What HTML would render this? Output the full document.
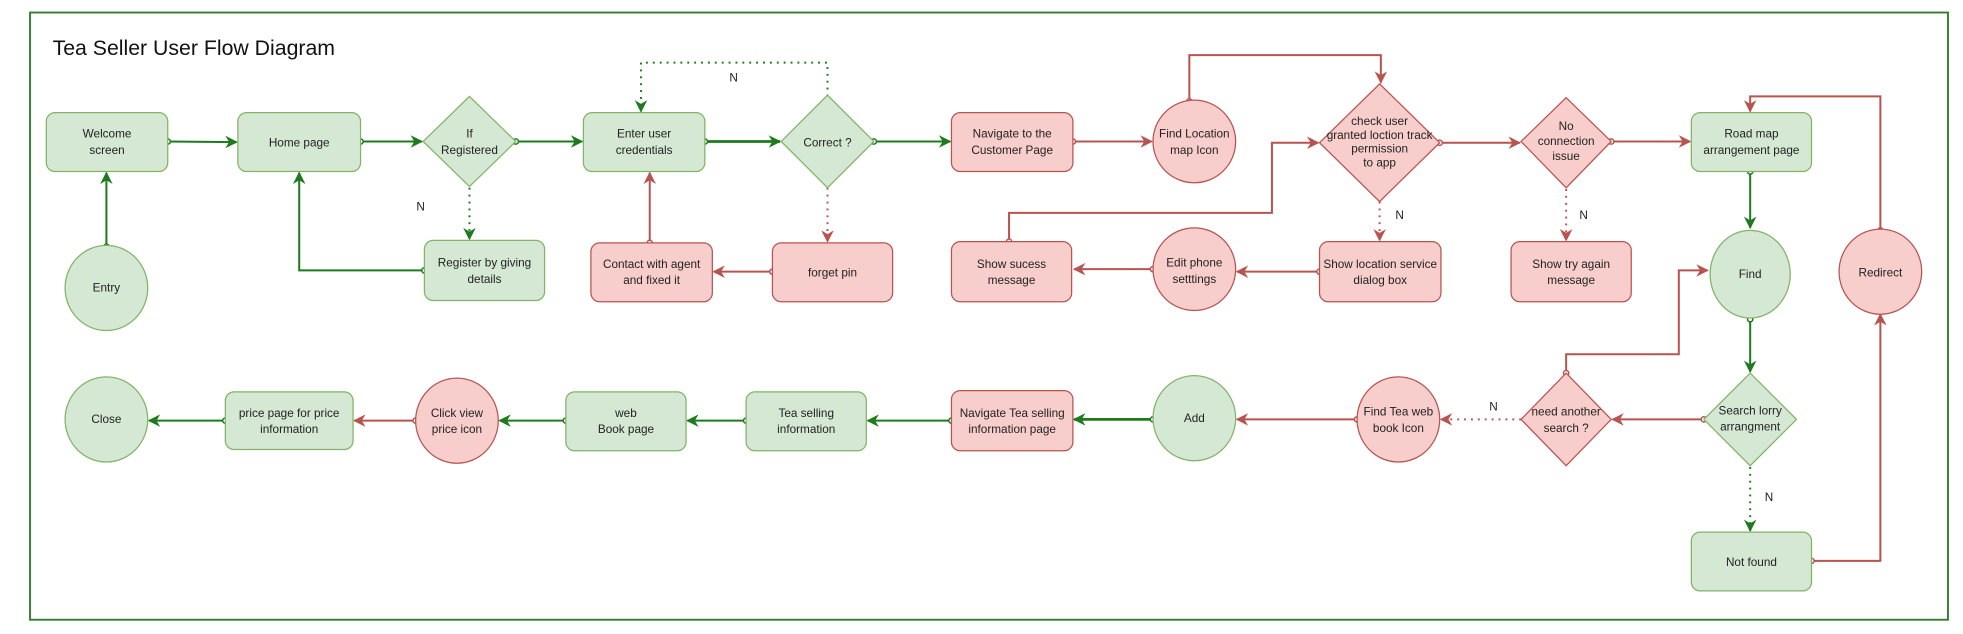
<!DOCTYPE html>
<html><head><meta charset="utf-8"><style>
html,body{margin:0;padding:0;background:#fff;}
svg{display:block;}
text{font-family:"Liberation Sans",sans-serif;font-size:9.4px;fill:#222;text-anchor:middle;}
.g{fill:#d5e8d4;stroke:#82b366;stroke-width:1;}
.r{fill:#f8cecc;stroke:#b85450;stroke-width:1;}
.lg{fill:none;stroke:#1d7a1d;stroke-width:1.6;}
.lr{fill:none;stroke:#b85450;stroke-width:1.6;}
.dg{fill:none;stroke:#1d7a1d;stroke-width:1.6;stroke-dasharray:1.5 4;}
.dr{fill:none;stroke:#b85450;stroke-width:1.6;stroke-dasharray:1.5 4;}
</style></head><body>
<svg width="1963" height="634" viewBox="0 0 1568 506.4" preserveAspectRatio="none" xmlns="http://www.w3.org/2000/svg">
<defs>
<marker id="ag" viewBox="0 0 10 10" refX="9" refY="5" markerWidth="10" markerHeight="10" orient="auto" markerUnits="userSpaceOnUse"><path d="M0,0 L10,5 L0,10 L3,5 z" fill="#1d7a1d"/></marker>
<marker id="ar" viewBox="0 0 10 10" refX="9" refY="5" markerWidth="10" markerHeight="10" orient="auto" markerUnits="userSpaceOnUse"><path d="M0,0 L10,5 L0,10 L3,5 z" fill="#b85450"/></marker>
<marker id="cg" viewBox="0 0 10 10" refX="5" refY="5" markerWidth="6" markerHeight="6" markerUnits="userSpaceOnUse"><circle cx="5" cy="5" r="3.5" fill="#fff" stroke="#1d7a1d" stroke-width="2"/></marker>
<marker id="cr" viewBox="0 0 10 10" refX="5" refY="5" markerWidth="6" markerHeight="6" markerUnits="userSpaceOnUse"><circle cx="5" cy="5" r="3.5" fill="#fff" stroke="#b85450" stroke-width="2"/></marker>
</defs>
<rect x="24" y="10" width="1532" height="485" fill="none" stroke="#2d7d2d" stroke-width="1.5"/>
<text x="42" y="44" style="font-size:17px;text-anchor:start;fill:#111">Tea Seller User Flow Diagram</text>

<g>
<path class="lg" d="M134,113 L189,113.5" marker-start="url(#cg)" marker-end="url(#ag)"/>
<path class="lg" d="M85,197 L85,138" marker-start="url(#cg)" marker-end="url(#ag)"/>
<path class="lg" d="M288,113 L337,113" marker-start="url(#cg)" marker-end="url(#ag)"/>
<path class="lg" d="M339,216 L239,216 L239,138" marker-start="url(#cg)" marker-end="url(#ag)"/>
<path class="dg" d="M375,150 L375,191" marker-end="url(#ag)"/>
<path class="lg" d="M412,113 L465,113" marker-start="url(#cg)" marker-end="url(#ag)"/>
<path class="lg" d="M563,113 L623,113" style="stroke-width:2.2" marker-start="url(#cg)" marker-end="url(#ag)"/>
<path class="dg" d="M661,77 L661,50 L512,50 L512,89" marker-end="url(#ag)"/>
<path class="lg" d="M698,113 L759,113" marker-start="url(#cg)" marker-end="url(#ag)"/>
<path class="dr" d="M661,150 L661,193" marker-end="url(#ar)"/>
<path class="lr" d="M617,217 L570,217" marker-start="url(#cr)" marker-end="url(#ar)"/>
<path class="lr" d="M519,194 L519,138" marker-start="url(#cr)" marker-end="url(#ar)"/>
<path class="lr" d="M857,113 L920,113" marker-start="url(#cr)" marker-end="url(#ar)"/>
<path class="lr" d="M950,81 L950,44 L1103,44 L1103,66" marker-start="url(#cr)" marker-end="url(#ar)"/>
<path class="lr" d="M1150,114 L1214,114" marker-start="url(#cr)" marker-end="url(#ar)"/>
<path class="dr" d="M1102,161 L1102,192" marker-end="url(#ar)"/>
<path class="lr" d="M1287,113 L1350,113" marker-start="url(#cr)" marker-end="url(#ar)"/>
<path class="dr" d="M1251,151 L1251,192" marker-end="url(#ar)"/>
<path class="lr" d="M1054,217 L988,217" marker-start="url(#cr)" marker-end="url(#ar)"/>
<path class="lr" d="M921,215 L858,215" marker-start="url(#cr)" marker-end="url(#ar)"/>
<path class="lr" d="M806,193 L806,170 L1016,170 L1016,114 L1053,114" marker-start="url(#cr)" marker-end="url(#ar)"/>
<path class="lg" d="M1398,137 L1398,182" marker-start="url(#cg)" marker-end="url(#ag)"/>
<path class="lg" d="M1398,255 L1398,297" marker-start="url(#cg)" marker-end="url(#ag)"/>
<path class="dg" d="M1398,373 L1398,424" marker-end="url(#ag)"/>
<path class="lr" d="M1447,448 L1502,448 L1502,251" marker-start="url(#cr)" marker-end="url(#ar)"/>
<path class="lr" d="M1502,184 L1502,77 L1398,77 L1398,89" marker-start="url(#cr)" marker-end="url(#ar)"/>
<path class="lr" d="M1361,335 L1288,335" marker-start="url(#cr)" marker-end="url(#ar)"/>
<path class="lr" d="M1251,298 L1251,283 L1341,283 L1341,216 L1364,216" marker-start="url(#cr)" marker-end="url(#ar)"/>
<path class="dr" d="M1215,335 L1151,335" marker-end="url(#ar)"/>
<path class="lr" d="M1084,335 L988,335" marker-start="url(#cr)" marker-end="url(#ar)"/>
<path class="lg" d="M921,335 L858,335" style="stroke-width:2.2" marker-start="url(#cg)" marker-end="url(#ag)"/>
<path class="lg" d="M760,336 L693,336" marker-start="url(#cg)" marker-end="url(#ag)"/>
<path class="lg" d="M596,336 L549,336" marker-start="url(#cg)" marker-end="url(#ag)"/>
<path class="lg" d="M452,336 L399,336" marker-start="url(#cg)" marker-end="url(#ag)"/>
<path class="lr" d="M332,336 L283,336" marker-start="url(#cr)" marker-end="url(#ar)"/>
<path class="lg" d="M180,336 L119,336" marker-start="url(#cg)" marker-end="url(#ag)"/>
</g>

<text x="336" y="168">N</text>
<text x="586" y="65">N</text>
<text x="1118" y="175">N</text>
<text x="1265" y="175">N</text>
<text x="1413" y="400">N</text>
<text x="1193" y="328">N</text>

<rect class="g" x="37" y="90" width="97" height="47" rx="7"/>
<text x="85.5" y="110">Welcome</text><text x="85.5" y="123">screen</text>
<ellipse class="g" cx="85" cy="230" rx="33" ry="34"/>
<text x="85" y="233">Entry</text>
<rect class="g" x="190" y="90" width="98" height="47" rx="7"/>
<text x="239" y="117">Home page</text>
<polygon class="g" points="375,77 412,113 375,149 338,113"/>
<text x="375" y="110">If</text><text x="375" y="123">Registered</text>
<rect class="g" x="339" y="192" width="96" height="48" rx="7"/>
<text x="387" y="213">Register by giving</text><text x="387" y="226">details</text>
<rect class="g" x="466" y="90" width="97" height="47" rx="7"/>
<text x="514.5" y="110">Enter user</text><text x="514.5" y="123">credentials</text>
<polygon class="g" points="661,76 698,113 661,150 624,113"/>
<text x="661" y="117">Correct ?</text>
<rect class="r" x="472" y="194" width="97" height="47" rx="7"/>
<text x="520.5" y="214">Contact with agent</text><text x="520.5" y="227">and fixed it</text>
<rect class="r" x="617" y="194" width="96" height="47" rx="7"/>
<text x="665" y="221">forget pin</text>
<rect class="r" x="760" y="90" width="97" height="47" rx="7"/>
<text x="808.5" y="110">Navigate to the</text><text x="808.5" y="123">Customer Page</text>
<ellipse class="r" cx="954" cy="113" rx="33" ry="33"/>
<text x="954" y="110">Find Location</text><text x="954" y="123">map Icon</text>
<polygon class="r" points="1102,67 1150,114 1102,161 1054,114"/>
<text x="1102" y="100">check user</text><text x="1102" y="111">granted loction track</text><text x="1102" y="122">permission</text><text x="1102" y="133">to app</text>
<polygon class="r" points="1251,78 1287,113 1251,150 1215,113"/>
<text x="1251" y="104">No</text><text x="1251" y="116">connection</text><text x="1251" y="128">issue</text>
<rect class="g" x="1351" y="90" width="96" height="47" rx="7"/>
<text x="1399" y="110">Road map</text><text x="1399" y="123">arrangement page</text>
<rect class="r" x="1054" y="193" width="97" height="48" rx="7"/>
<text x="1102.5" y="214">Show location service</text><text x="1102.5" y="227">dialog box</text>
<ellipse class="r" cx="954" cy="215" rx="33" ry="33"/>
<text x="954" y="213">Edit phone</text><text x="954" y="226">setttings</text>
<rect class="r" x="760" y="193" width="96" height="48" rx="7"/>
<text x="808" y="214">Show sucess</text><text x="808" y="227">message</text>
<rect class="r" x="1207" y="193" width="96" height="48" rx="7"/>
<text x="1255" y="214">Show  try again</text><text x="1255" y="227">message</text>
<ellipse class="g" cx="1398" cy="219" rx="32" ry="35"/>
<text x="1398" y="222">Find</text>
<ellipse class="r" cx="1502" cy="217" rx="33" ry="34"/>
<text x="1502" y="221">Redirect</text>
<polygon class="g" points="1398,298 1435,335 1398,372 1361,335"/>
<text x="1398" y="331">Search lorry</text><text x="1398" y="344">arrangment</text>
<rect class="g" x="1351" y="425" width="96" height="47" rx="7"/>
<text x="1399" y="452">Not found</text>
<polygon class="r" points="1251,298 1287,335 1251,372 1215,335"/>
<text x="1251" y="332">need another</text><text x="1251" y="345">search ?</text>
<ellipse class="r" cx="1117" cy="335" rx="33" ry="34"/>
<text x="1117" y="332">Find Tea web</text><text x="1117" y="345">book Icon</text>
<ellipse class="g" cx="954" cy="334" rx="33" ry="34"/>
<text x="954" y="337">Add</text>
<rect class="r" x="760" y="312" width="97" height="48" rx="7"/>
<text x="808.5" y="333">Navigate Tea selling</text><text x="808.5" y="346">information page</text>
<rect class="g" x="596" y="313" width="96" height="47" rx="7"/>
<text x="644" y="333">Tea selling</text><text x="644" y="346">information</text>
<rect class="g" x="452" y="313" width="96" height="47" rx="7"/>
<text x="500" y="333">web</text><text x="500" y="346">Book page</text>
<ellipse class="r" cx="365" cy="336" rx="33" ry="34"/>
<text x="365" y="333">Click view</text><text x="365" y="346">price icon</text>
<rect class="g" x="180" y="313" width="102" height="46" rx="7"/>
<text x="231" y="333">price page for price</text><text x="231" y="346">information</text>
<ellipse class="g" cx="85" cy="335" rx="33" ry="34"/>
<text x="85" y="338">Close</text>
</svg>
</body></html>
